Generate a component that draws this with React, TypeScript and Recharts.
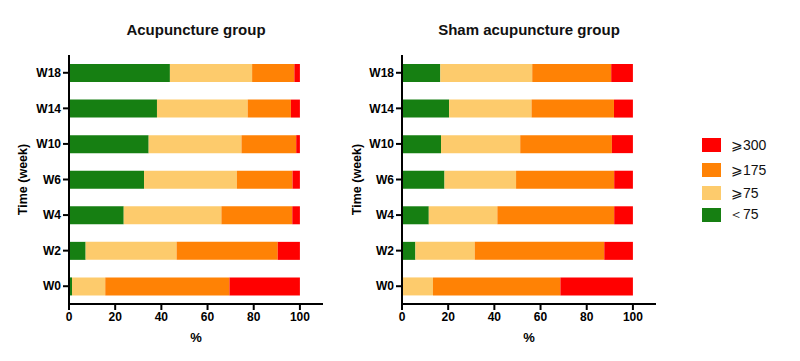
import { BarChart, Bar, XAxis, YAxis } from "recharts";

// weeks, bottom to top
const categories = ["W0", "W2", "W4", "W6", "W10", "W14", "W18"];

// Acupuncture group (%)
const acuBelow75 = [1.3, 7.2, 23.7, 32.5, 34.5, 38.1, 43.7];
const acuFrom75 = [14.4, 39.4, 42.3, 40.2, 40.2, 39.3, 35.6];
const acuFrom175 = [53.8, 43.8, 30.7, 24.1, 23.7, 18.7, 18.3];
const acuFrom300 = [30.5, 9.6, 3.3, 3.2, 1.6, 3.9, 2.4];

// Sham acupuncture group (%)
const shamBelow75 = [0.4, 5.8, 11.6, 18.4, 16.9, 20.4, 16.6];
const shamFrom75 = [13.0, 25.7, 29.7, 31.0, 34.3, 35.7, 39.8];
const shamFrom175 = [55.2, 56.1, 50.6, 42.5, 39.7, 35.7, 34.2];
const shamFrom300 = [31.4, 12.4, 8.1, 8.1, 9.1, 8.2, 9.4];

const xTicks = [0, 20, 40, 60, 80, 100];

const series = [
    { key: "below75", name: "＜75", color: "#167F12" },
    { key: "from75", name: "⩾75", color: "#FDCB6C" },
    { key: "from175", name: "⩾175", color: "#FF8205" },
    { key: "from300", name: "⩾300", color: "#FF0000" }
];

const FONT = "'Liberation Sans', Arial, sans-serif";

function buildRows(a: number[], b: number[], c: number[], d: number[]) {
    return categories.map((week, i) => ({
        week,
        below75: a[i],
        from75: b[i],
        from175: c[i],
        from300: d[i]
    }));
}

const acuData = buildRows(acuBelow75, acuFrom75, acuFrom175, acuFrom300);
const shamData = buildRows(shamBelow75, shamFrom75, shamFrom175, shamFrom300);

const tickStyle = { fill: "#000", fontSize: 12, fontWeight: 700, fontFamily: FONT };
const axisLine = { stroke: "#000", strokeWidth: 2 };

// legend, top to bottom: >=300, >=175, >=75, <75
function LegendBox() {
    const items = [...series].reverse();
    const tops = [138, 163, 186, 208];
    return (
        <div style={{ position: "absolute", left: 702, top: 0, fontFamily: FONT, fontSize: 14, color: "#111" }}>
            {items.map((s, i) => (
                <div
                    key={s.key}
                    style={{ position: "absolute", top: tops[i], left: 0, display: "flex", alignItems: "center", height: 14, whiteSpace: "nowrap" }}
                >
                    <span style={{ width: 19, height: 14, background: s.color, display: "inline-block" }} />
                    <span style={{ marginLeft: s.key === "below75" ? 8 : 10 }}>{s.name}</span>
                </div>
            ))}
        </div>
    );
}

interface PanelProps {
    data: ReturnType<typeof buildRows>;
    width: number;
    yWidth: number;
    right: number;
    labelOffset: number;
}

function Panel({ data, width, yWidth, right, labelOffset }: PanelProps) {
    return (
        <BarChart
            width={width}
            height={361}
            data={data}
            layout="vertical"
            margin={{ top: 55, right, bottom: 17, left: 0 }}
            barSize={18}
        >
            <XAxis
                type="number"
                domain={[0, 110]}
                ticks={xTicks}
                tick={tickStyle}
                tickSize={6}
                axisLine={axisLine}
                tickLine={axisLine}
                height={40}
                label={{ value: "%", position: "insideBottom", offset: 2, style: { ...tickStyle, fontSize: 13 } }}
            />
            <YAxis
                type="category"
                dataKey="week"
                reversed
                width={yWidth}
                tick={tickStyle}
                tickSize={6}
                axisLine={axisLine}
                tickLine={axisLine}
                label={{
                    value: "Time (week)",
                    angle: -90,
                    position: "insideLeft",
                    offset: labelOffset,
                    style: { ...tickStyle, fontSize: 12.5, textAnchor: "middle" }
                }}
            />
            {series.map(s => (
                <Bar
                    key={s.key}
                    dataKey={s.key}
                    name={s.name}
                    stackId="a"
                    fill={s.color}
                    isAnimationActive={false}
                />
            ))}
        </BarChart>
    );
}

const titleStyle = {
    position: "absolute" as const,
    top: 21,
    lineHeight: "18px",
    fontFamily: FONT,
    fontSize: 15,
    fontWeight: 700,
    color: "#111",
    textAlign: "center" as const,
    width: 300
};

export default function App() {
    return (
        <div style={{ position: "absolute", left: 0, top: 0, width: 800, height: 361, background: "#fff" }}>
            <div style={{ ...titleStyle, left: 196 - 150 }}>Acupuncture group</div>
            <div style={{ ...titleStyle, left: 529 - 150 }}>Sham acupuncture group</div>
            <div style={{ position: "absolute", left: 0, top: 0 }}>
                <Panel data={acuData} width={340} yWidth={69} right={17} labelOffset={23} />
            </div>
            <div style={{ position: "absolute", left: 340, top: 0 }}>
                <Panel data={shamData} width={340} yWidth={62} right={24} labelOffset={17} />
            </div>
            <LegendBox />
        </div>
    );
}
